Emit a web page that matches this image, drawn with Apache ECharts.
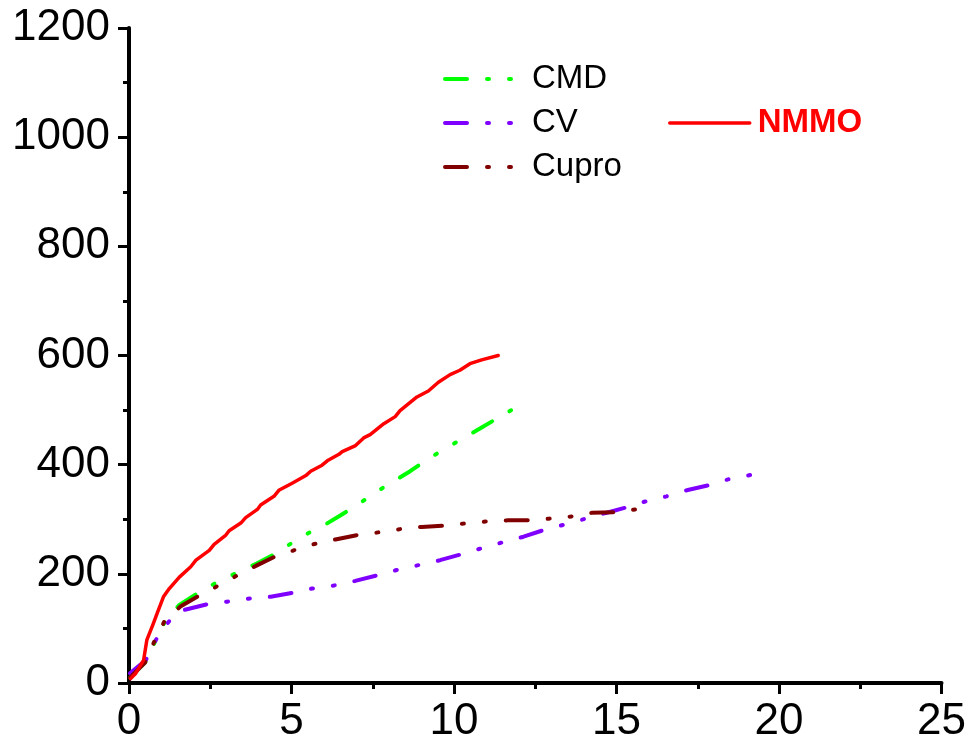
<!DOCTYPE html>
<html>
<head>
<meta charset="utf-8">
<script src="https://cdn.jsdelivr.net/npm/echarts@6/dist/echarts.min.js"></script>
<style>
html,body{margin:0;padding:0;background:#fff;}
#chart{width:969px;height:746px;}
</style>
</head>
<body>
<div id="chart"></div>
<script>
const xTicks = [0, 5, 10, 15, 20, 25];
const yTicks = [0, 200, 400, 600, 800, 1000, 1200];

const cmdX = [0.03,0.5,0.85,1.15,1.55,2.15,2.72,3.39,3.93,4.48,5.02,5.53,6.0,6.5,6.97,7.53,8.04,8.65,9.21,9.78,10.3,10.85,11.36,12.06];
const cmdY = [10,38,82,118,143,166,185,204,219,236,257,275,289,307,324,347,366,388,411,431,449,468,486,510];

const cvX = [0.03,0.52,0.83,1.14,1.4,1.70,2.39,3.03,3.74,4.36,5.02,5.63,6.35,6.96,7.63,8.24,8.91,9.57,10.24,10.80,11.51,12.14,12.75,13.32,14.04,14.70,15.26,15.85,16.54,17.16,17.82,18.43,19.2];
const cvY = [18,42,79,106,125,134,144,149,155,158,165,173,179,187,197,207,216,225,236,246,258,268,280,289,301,312,321,332,342,353,362,373,382];

const cuproX = [0.03,0.5,0.73,1.08,1.58,2.19,2.77,3.39,3.95,4.51,5.02,5.66,6.35,7.02,7.68,8.35,9.01,9.67,10.30,11.0,11.67,12.3,12.92,13.6,14.25,14.94,15.58];
const cuproY = [10,38,70,112,140,161,179,199,216,232,242,254,263,271,276,282,286,288,292,296,298,298,301,305,312,313,318];

const nmmoX = [0.05,0.21,0.45,0.55,0.73,0.88,1.06,1.24,1.55,1.90,2.06,2.47,2.62,2.98,3.08,3.44,3.59,3.95,4.05,4.46,4.61,5.02,5.44,5.59,5.94,6.10,6.46,6.56,6.97,7.22,7.42,7.84,8.19,8.34,8.86,9.21,9.52,9.88,10.18,10.49,10.85,11.36];
const nmmoY = [8,18,42,79,106,130,158,173,194,213,225,243,254,271,279,293,303,318,326,342,353,366,380,388,399,407,419,424,435,449,455,475,488,499,524,535,551,565,573,585,592,600];

const zip = (xs, ys) => xs.map((x, i) => [x, ys[i]]);
const FONT = '"Liberation Sans", Arial, sans-serif';
const dashPattern = [22, 20, 2, 20, 2, 20];

function dashSeries(name, color, xs, ys) {
  return {
    name, type: 'line', data: zip(xs, ys), symbol: 'none', showSymbol: false, smooth: false,
    lineStyle: { color, width: 4, type: dashPattern, cap: 'round', join: 'round' },
    itemStyle: { color },
    silent: true, animation: false
  };
}

function legendItem(name, left, top, width, lw, textStyleExtra) {
  return {
    data: [name], left, top, orient: 'vertical', padding: 0,
    itemWidth: width, itemHeight: 14, selectedMode: false,
    itemStyle: { opacity: 0, borderWidth: 0 },
    lineStyle: { width: lw, cap: 'round' },
    textStyle: Object.assign({ fontSize: 33, fontFamily: FONT, color: '#000', lineHeight: 36 }, textStyleExtra)
  };
}

const chart = echarts.init(document.getElementById('chart'), null, { renderer: 'canvas' });
chart.setOption({
  animation: false,
  backgroundColor: '#fff',
  grid: { left: 129, right: 26, top: 28, bottom: 63, containLabel: false },
  legend: [
    legendItem('CMD', 443, 61, 70, 4, { padding: [0, 0, 0, 12] }),
    legendItem('CV', 443, 105, 70, 4, { padding: [0, 0, 0, 12] }),
    legendItem('Cupro', 443, 149, 70, 4, { padding: [0, 0, 0, 12] }),
    legendItem('NMMO', 668, 105, 80, 3.5, { color: '#ff0000', fontWeight: 'bold', padding: [0, 0, 0, 3] })
  ],
  xAxis: {
    type: 'value', min: xTicks[0], max: xTicks[xTicks.length - 1], interval: 5,
    splitLine: { show: false },
    axisLine: { show: true, onZero: false, lineStyle: { color: '#000', width: 4 } },
    axisTick: { show: true, inside: false, length: 11, lineStyle: { color: '#000', width: 3 } },
    minorTick: { show: true, splitNumber: 2, length: 6, lineStyle: { color: '#000', width: 3 } },
    axisLabel: { fontSize: 44, fontFamily: FONT, color: '#000', margin: 17, formatter: v => String(v) }
  },
  yAxis: {
    type: 'value', min: yTicks[0], max: yTicks[yTicks.length - 1], interval: 200,
    splitLine: { show: false },
    axisLine: { show: true, onZero: false, lineStyle: { color: '#000', width: 4 } },
    axisTick: { show: true, inside: false, length: 11, lineStyle: { color: '#000', width: 3 } },
    minorTick: { show: true, splitNumber: 2, length: 6, lineStyle: { color: '#000', width: 3 } },
    axisLabel: { fontSize: 44, fontFamily: FONT, color: '#000', margin: 19, formatter: v => String(v) }
  },
  series: [
    dashSeries('CMD', '#00ff00', cmdX, cmdY),
    dashSeries('CV', '#8000ff', cvX, cvY),
    dashSeries('Cupro', '#800000', cuproX, cuproY),
    {
      name: 'NMMO', type: 'line', data: zip(nmmoX, nmmoY), symbol: 'none', showSymbol: false,
      lineStyle: { color: '#ff0000', width: 3.5, type: 'solid', cap: 'round', join: 'round' },
      itemStyle: { color: '#ff0000' }, silent: true, animation: false
    }
  ]
});
</script>
</body>
</html>
